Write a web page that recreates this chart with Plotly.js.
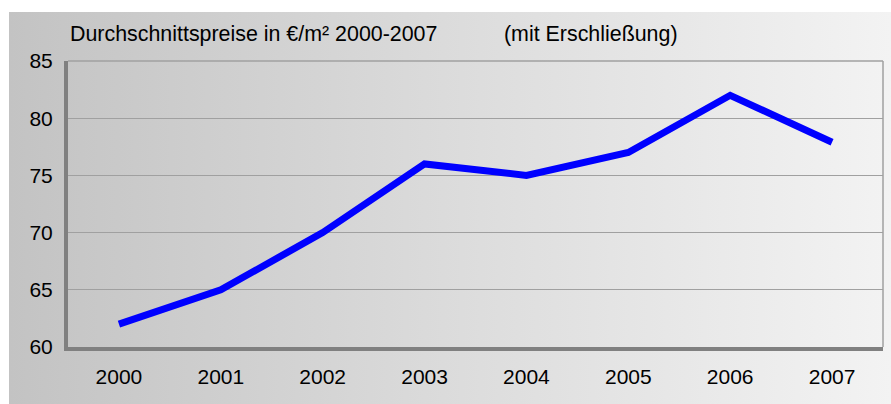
<!DOCTYPE html>
<html>
<head>
<meta charset="utf-8">
<script src="https://cdn.plot.ly/plotly-3.0.1.min.js"></script>
<style>
  html, body { margin: 0; padding: 0; background: #ffffff; }
  #wrap { position: relative; width: 891px; height: 404px; background: #ffffff; overflow: hidden; }
  #bg { position: absolute; left: 9px; top: 12px; width: 882px; height: 392px;
        background: linear-gradient(to right, #c3c3c3 0%, #d9d9d9 45%, #f3f3f3 100%); }
  #chart { position: absolute; left: 0; top: 0; width: 891px; height: 404px; }
</style>
</head>
<body>
<div id="wrap">
  <div id="bg"></div>
  <div id="chart"></div>
</div>
<script>
const years = ["2000", "2001", "2002", "2003", "2004", "2005", "2006", "2007"];
const prices = [62, 65, 70, 76, 75, 77, 82, 77.9];
const yTicks = [60, 65, 70, 75, 80, 85];
const titleMain = "Durchschnittspreise in €/m² 2000-2007";
const titleNote = "(mit Erschließung)";

const fontFam = "Liberation Sans, Arial, sans-serif";
const fs = 21;
const tfs = 21.4;

const trace = {
  x: years,
  y: prices,
  type: "scatter",
  mode: "lines",
  line: { color: "#0000ff", width: 7 },
  hoverinfo: "skip"
};

const layout = {
  width: 891,
  height: 404,
  margin: { l: 68, r: 8, t: 61, b: 57, pad: 0 },
  paper_bgcolor: "rgba(0,0,0,0)",
  plot_bgcolor: "rgba(0,0,0,0)",
  showlegend: false,
  font: { family: fontFam, size: fs, color: "#000000" },
  title: {
    text: titleMain,
    xref: "container", x: 70 / 891, xanchor: "left",
    yref: "container", y: 1 - 34 / 404, yanchor: "middle",
    font: { family: fontFam, size: tfs, color: "#000000" }
  },
  xaxis: {
    type: "category",
    range: [-0.5, 7.5],
    showgrid: false,
    zeroline: false,
    showline: true,
    linecolor: "#808080",
    linewidth: 4,
    ticks: "",
    ticklabelstandoff: 8,
    tickfont: { family: fontFam, size: fs, color: "#000000" },
    fixedrange: true
  },
  yaxis: {
    range: [60, 85],
    tickvals: yTicks,
    ticktext: yTicks.map(String),
    showgrid: true,
    gridcolor: "#a0a0a0",
    gridwidth: 1,
    zeroline: false,
    showline: true,
    linecolor: "#808080",
    linewidth: 4,
    ticks: "",
    ticklabelstandoff: 7,
    tickfont: { family: fontFam, size: fs, color: "#000000" },
    fixedrange: true
  },
  shapes: [
    { type: "line", xref: "paper", yref: "paper", x0: 0, x1: 1, y0: 1, y1: 1,
      line: { color: "#a0a0a0", width: 1.5 } },
    { type: "line", xref: "paper", yref: "paper", x0: 1, x1: 1, y0: 0, y1: 1,
      line: { color: "#a0a0a0", width: 1.5 } }
  ],
  annotations: [
    {
      text: titleNote,
      xref: "paper", x: (502 - 68) / 815, xanchor: "left",
      yref: "paper", y: (347 - 34) / 286, yanchor: "middle",
      showarrow: false,
      font: { family: fontFam, size: tfs, color: "#000000" }
    }
  ]
};

Plotly.newPlot("chart", [trace], layout, { displayModeBar: false, staticPlot: true });
</script>
</body>
</html>
